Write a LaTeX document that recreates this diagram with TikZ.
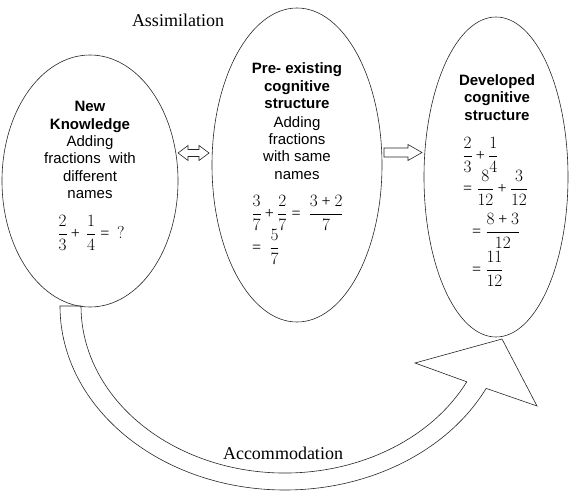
\documentclass[tikz,border=0pt]{standalone}
\usepackage{amsmath}
\usepackage{fontspec}
\setmainfont{Liberation Serif}
\newfontfamily\arialfont{Liberation Sans}
\usetikzlibrary{shapes.geometric,calc}
\newcommand{\mypl}{\mathbin{\text{+}}}
\newcommand{\myeq}{\mathrel{\text{=}}}
\setlength{\nulldelimiterspace}{0.5pt}
\begin{document}
\begin{tikzpicture}[x=1pt,y=1pt,
  shapeline/.style={draw=black!85, line width=0.6pt},
  bubble/.style={shapeline, ellipse, inner sep=0pt},
  sans/.style={font=\arialfont\fontsize{15}{17.3}\selectfont, align=center, inner sep=0pt},
  mathline/.style={font=\fontsize{16}{18}\selectfont, anchor=west, inner sep=0pt},
  seriflabel/.style={font=\fontsize{18}{20}\selectfont, inner sep=0pt}]
\useasboundingbox (0,0) rectangle (570,491);
% ellipses
\node[bubble, minimum width=176pt, minimum height=252pt] (new) at (90,310) {};
\node[bubble, minimum width=170pt, minimum height=314pt] (pre) at (297,326) {};
\node[bubble, minimum width=144pt, minimum height=320pt] (dev) at (496,314) {};
% labels
\node[seriflabel] (assim) at (178,471) {Assimilation};
\node[seriflabel] (accom) at (283,38) {Accommodation};
% texts
\node[sans] (newtxt) at (90,341) {\textbf{New}\\\textbf{Knowledge}\\Adding\\fractions\ \ with\\different\\names};
\node[sans] (pretxt) at (297,370) {\textbf{Pre- existing}\\\textbf{cognitive}\\\textbf{structure}\\[1.5pt]Adding\\fractions\\with same\\names};
\node[sans] (devtxt) at (497,393.5) {\textbf{Developed}\\\textbf{cognitive}\\\textbf{structure}};
% maths
\node[mathline] (m1) at (58,258) {$\dfrac{2}{3}\mypl\,\dfrac{1}{4}\myeq\,\mathord{?}$};
\node[mathline] (m2) at (252,278) {$\dfrac{3}{7}\mypl\dfrac{2}{7}\myeq\ \dfrac{3\mypl 2}{7}$};
\node[mathline] (m3) at (252,244) {$\myeq\ \dfrac{5}{7}$};
\node[mathline] (m4) at (463,336) {$\dfrac{2}{3}\mypl\dfrac{1}{4}$};
\node[mathline] (m5) at (463,303) {$\myeq\dfrac{8}{12}\mypl\dfrac{3}{12}$};
\node[mathline] (m6) at (472,260) {$\myeq\dfrac{8\mypl 3}{12}$};
\node[mathline] (m7) at (472,222) {$\myeq\dfrac{11}{12}$};
% double arrow between new and pre
\draw[shapeline] (178,338) -- (188,345.5) -- (188,341.5) -- (199,341.5) -- (199,345.5) -- (209,338)
  -- (199,330.5) -- (199,334.5) -- (188,334.5) -- (188,330.5) -- cycle;
% block arrow between pre and dev
\draw[shapeline] (384,343) -- (408,343) -- (408,346.5) -- (422,338.5) -- (408,330.5) -- (408,334) -- (384,334) -- cycle;
% curved accommodation arrow
\coordinate (c) at (285,185);
\draw[shapeline] (60,185) arc[start angle=180, end angle=333.4, x radius=225pt, y radius=184pt]
  -- (537,85) -- (502,152) -- (415,128) -- ($(c)+(333:204pt and 167pt)$)
  arc[start angle=333, end angle=180, x radius=204pt, y radius=167pt] -- cycle;
\end{tikzpicture}
\end{document}
